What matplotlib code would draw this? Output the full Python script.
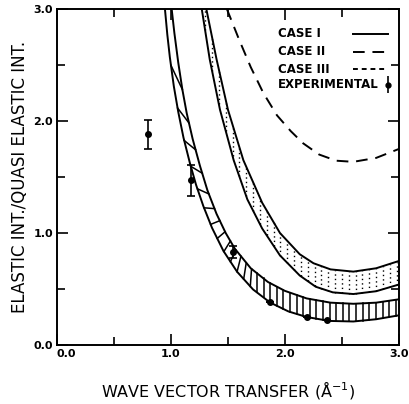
import numpy as np
import matplotlib
matplotlib.use("Agg")
import matplotlib.pyplot as plt

# curves (x in 1/A, y = elastic/quasi elastic ratio)
# case I band, lower and upper edge
case1_lo_x = [0.947, 0.968, 0.99, 1.025, 1.064, 1.11, 1.167, 1.22, 1.284, 1.36, 1.46, 1.58, 1.72, 1.87, 2.03, 2.19, 2.39, 2.6, 2.8, 3.0]
case1_lo_y = [3.0, 2.77, 2.57, 2.31, 2.08, 1.85, 1.62, 1.43, 1.24, 1.046, 0.84, 0.654, 0.496, 0.379, 0.30, 0.25, 0.215, 0.21, 0.23, 0.265]
case1_hi_x = [1.006, 1.03, 1.064, 1.10, 1.138, 1.19, 1.254, 1.32, 1.40, 1.48, 1.56, 1.70, 1.85, 2.0, 2.19, 2.4, 2.6, 2.8, 3.0]
case1_hi_y = [3.0, 2.784, 2.52, 2.28, 2.07, 1.84, 1.60, 1.38, 1.17, 1.0, 0.86, 0.685, 0.563, 0.483, 0.416, 0.378, 0.368, 0.378, 0.408]

# case III band (dotted), lower and upper edge
case3_lo_x = [1.27, 1.34, 1.43, 1.55, 1.67, 1.80, 1.956, 2.13, 2.27, 2.42, 2.6, 2.8, 3.0]
case3_lo_y = [3.0, 2.55, 2.10, 1.65, 1.30, 1.04, 0.80, 0.62, 0.52, 0.47, 0.455, 0.48, 0.54]
case3_hi_x = [1.31, 1.40, 1.50, 1.635, 1.80, 1.956, 2.13, 2.25, 2.4, 2.6, 2.8, 3.0]
case3_hi_y = [3.0, 2.55, 2.10, 1.65, 1.27, 1.0, 0.81, 0.73, 0.675, 0.655, 0.685, 0.75]

# case II (dashed)
case2_x = [1.49, 1.60, 1.70, 1.81, 1.93, 2.05, 2.16, 2.3, 2.45, 2.6, 2.8, 3.0]
case2_y = [3.0, 2.72, 2.48, 2.25, 2.05, 1.91, 1.80, 1.70, 1.645, 1.635, 1.67, 1.75]

# experimental points
exp_x = [0.80, 1.18, 1.54, 1.87, 2.19, 2.37]
exp_y = [1.88, 1.47, 0.83, 0.38, 0.25, 0.22]
exp_err = [0.13, 0.14, 0.05, 0.0, 0.0, 0.0]

fig = plt.figure(figsize=(4.10, 4.04), dpi=100)
ax = fig.add_axes([0.139, 0.146, 0.834, 0.832])
lw = 1.4

# case I band
ax.plot(case1_lo_x, case1_lo_y, color="black", lw=lw)
ax.plot(case1_hi_x, case1_hi_y, color="black", lw=lw)
hx = np.arange(1.0, 3.0, 0.058)
for x in hx:
    d = 0.1 * np.clip((1.75 - x) / 0.5, 0, 1)
    xb = min(x + d, 3.0)
    ya = np.interp(x, case1_lo_x, case1_lo_y)
    yb = np.interp(xb, case1_hi_x, case1_hi_y)
    ax.plot([x, xb], [ya, yb], color="black", lw=1.1)

# case III band
ax.plot(case3_lo_x, case3_lo_y, color="black", lw=lw)
ax.plot(case3_hi_x, case3_hi_y, color="black", lw=lw)
for x in np.arange(1.30, 3.0, 0.06):
    ya = np.interp(x, case3_lo_x, case3_lo_y)
    yb = min(np.interp(x, case3_hi_x, case3_hi_y), 3.0)
    ax.plot([x, x], [ya, yb], color="black", lw=1.0, ls=(0, (1, 2.2)))

# case II
ax.plot(case2_x, case2_y, color="black", lw=lw, ls=(0, (6, 4)))

# experimental
ax.errorbar(exp_x, exp_y, yerr=exp_err, fmt="o", color="black", ms=4,
            capsize=3, elinewidth=1.2, capthick=1.2)

ax.set_xlim(0, 3)
ax.set_ylim(0, 3)
ax.set_xticks([0, 1, 2, 3])
ax.set_yticks([0, 1, 2, 3])
ax.set_xticks([0.5, 1.5, 2.5], minor=True)
ax.set_yticks([0.5, 1.5, 2.5], minor=True)
ax.set_xticklabels(["0.0", "1.0", "2.0", "3.0"], fontsize=8, fontweight="bold")
ax.set_yticklabels(["0.0", "1.0", "2.0", "3.0"], fontsize=8, fontweight="bold")
ax.get_xticklabels()[0].set_ha("left")
ax.tick_params(which="both", direction="in", top=True, right=True, width=1.2)
ax.tick_params(which="major", length=8, pad=3)
ax.tick_params(which="minor", length=6)
for s in ax.spines.values():
    s.set_linewidth(1.4)

ax.set_xlabel("WAVE VECTOR TRANSFER (Å$^{-1}$)", fontsize=11.5, labelpad=14)
ax.set_ylabel("ELASTIC INT./QUASI ELASTIC INT.", fontsize=12, labelpad=3)

# legend drawn by hand
tr = ax.transAxes
rows = [0.926, 0.872, 0.821, 0.774]
names = ["CASE I", "CASE II", "CASE III", "EXPERIMENTAL"]
for r, n in zip(rows, names):
    ax.text(0.646, r, n, transform=tr, fontsize=8.5, fontweight="bold", va="center")
ax.plot([0.865, 0.968], [rows[0]] * 2, transform=tr, color="black", lw=lw)
ax.plot([0.865, 0.968], [rows[1]] * 2, transform=tr, color="black", lw=lw, ls=(0, (6, 4)))
ax.plot([0.865, 0.968], [rows[2]] * 2, transform=tr, color="black", lw=lw, ls=(0, (2.5, 2)))
ax.errorbar([0.968], [rows[3]], yerr=[0.025], transform=tr, fmt="o", color="black",
            ms=3.5, elinewidth=1.2, capsize=0)

fig.savefig("out.png", dpi=100)
